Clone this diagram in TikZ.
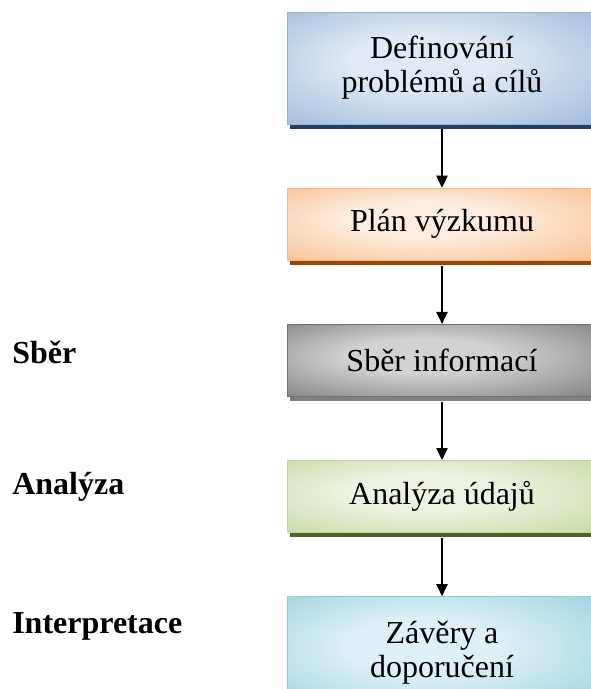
\documentclass[tikz,border=0pt]{standalone}
\usepackage{fontspec}
\setmainfont{Liberation Serif}
\usetikzlibrary{positioning,arrows.meta,shadows}
\definecolor{BlueDark}{RGB}{149,179,215}
\definecolor{BlueLight}{RGB}{224,233,244}
\definecolor{BlueShadow}{RGB}{36,63,96}
\definecolor{OrangeDark}{RGB}{247,184,132}
\definecolor{OrangeLight}{RGB}{253,237,224}
\definecolor{OrangeShadow}{RGB}{151,72,6}
\definecolor{GrayDark}{RGB}{115,115,115}
\definecolor{GrayLight}{RGB}{210,210,210}
\definecolor{GrayShadow}{RGB}{128,128,128}
\definecolor{GreenDark}{RGB}{194,214,155}
\definecolor{GreenLight}{RGB}{237,243,226}
\definecolor{GreenShadow}{RGB}{79,98,40}
\definecolor{TealDark}{RGB}{146,205,220}
\definecolor{TealLight}{RGB}{222,240,245}
\definecolor{TealShadow}{RGB}{32,88,103}

% light centre, darker edges
\newcommand\stageshade[1]{%
  \pgfdeclareradialshading{#1shade}{\pgfpoint{-4bp}{4bp}}{%
    color(0bp)=(#1Light); color(12bp)=(#1Light);
    color(27bp)=(#1Light!50!#1Dark); color(42bp)=(#1Dark); color(50bp)=(#1Dark)}}
\stageshade{Blue}
\stageshade{Orange}
\stageshade{Gray}
\stageshade{Green}
\stageshade{Teal}

\begin{document}
\begin{tikzpicture}[x=0.75pt, y=-0.75pt,
    stagebox/.style={rectangle, draw=#1Dark, line width=0.6pt,
                     shade, shading=#1shade,
                     drop shadow={shadow xshift=2.25pt, shadow yshift=-3.75pt,
                                  fill=#1Shadow, opacity=1},
                     minimum width=232.5pt, minimum height=54pt, align=center,
                     font=\fontsize{24}{25.5}\selectfont},
    sidelabel/.style={anchor=base west, inner sep=0pt,
                      font=\fontsize{24}{25.5}\selectfont\bfseries},
    conn/.style={-{Triangle[length=9pt, width=8.5pt]}, line width=1pt, shorten <=3.75pt}
]
    \useasboundingbox (0,0) rectangle (590,689);

    \node[stagebox=Blue, minimum height=84pt] (defin) at (442,68) {Definování\\problémů a cílů};
    \node[stagebox=Orange, below=47.5pt of defin] (plan) {Plán výzkumu};
    \node[stagebox=Gray, below=47.5pt of plan] (sber) {Sběr informací};
    \node[stagebox=Green, below=47.5pt of sber] (analyza) {Analýza údajů};
    \node[stagebox=Teal, minimum height=84pt, below=47.5pt of analyza] (zavery) {Závěry a\\doporučení};

    \node[sidelabel] (tsber) at (12,363) {Sběr};
    \node[sidelabel] (tanalyza) at (12,494) {Analýza};
    \node[sidelabel] (tinterp) at (12,633) {Interpretace};

    \draw[conn] (defin) -- (plan);
    \draw[conn] (plan) -- (sber);
    \draw[conn] (sber) -- (analyza);
    \draw[conn] (analyza) -- (zavery);
\end{tikzpicture}
\end{document}
